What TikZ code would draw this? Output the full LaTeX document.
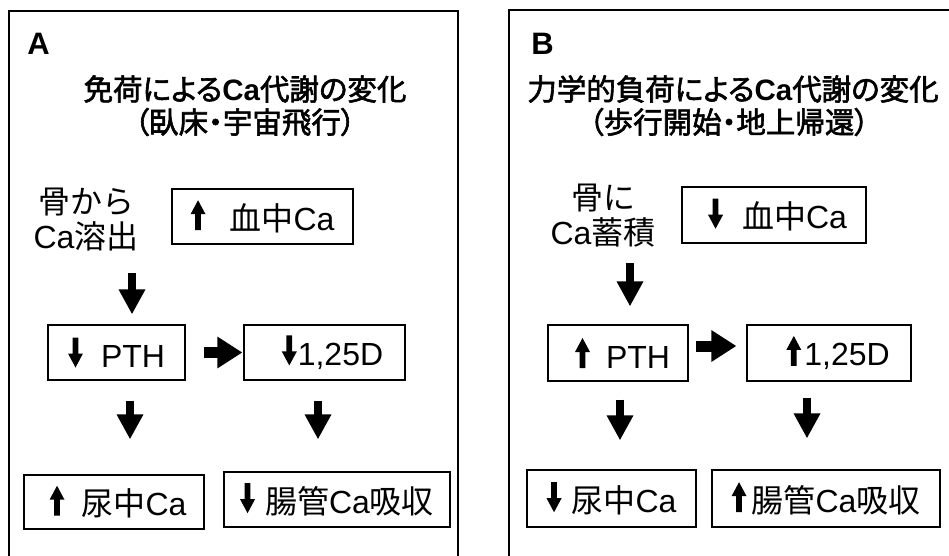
\documentclass[tikz,border=0pt]{standalone}
\usepackage{fontspec}
\setmainfont{Liberation Sans}
\newfontfamily\jp{Noto Sans CJK JP}
\newfontfamily\jpt{Noto Sans CJK JP}[RawFeature=+palt, FakeBold=2]
\usetikzlibrary{arrows.meta}
\newcommand\jt[1]{{\jp #1}}
\newcommand\jtp[1]{{\jpt\mdseries #1}}
\newcommand\upa{\tikz[baseline=0pt,x=1pt,y=1pt]\fill (-2.9,0)--(-2.9,16)--(-7.5,16)--(0,30)--(7.5,16)--(2.9,16)--(2.9,0)--cycle;}
\newcommand\dna{\tikz[baseline=0pt,x=1pt,y=1pt]\fill (-2.9,30)--(-2.9,14)--(-7.5,14)--(0,0)--(7.5,14)--(2.9,14)--(2.9,30)--cycle;}
\begin{document}
\begin{tikzpicture}[x=1pt,y=-1pt,
  frame/.style={line width=1.4pt},
  box/.style={draw, line width=1.2pt, inner sep=0pt, font=\fontsize{32}{33}\selectfont},
  ttl/.style={font=\bfseries\fontsize{29.5}{32}\selectfont, inner sep=0pt},
  lbl/.style={font=\bfseries\fontsize{31}{31}\selectfont, inner sep=0pt},
  srct/.style={align=center, font=\fontsize{32}{35}\selectfont, inner sep=0pt},
  bigdn/.style={line width=8.5pt, -{Triangle[length=25pt,width=25pt]}},
  bigrt/.style={line width=11pt, -{Triangle[length=25pt,width=30pt]}}]
\useasboundingbox (0,0) rectangle (949,555);
\fill[white] (0,0) rectangle (949,555);
\draw[frame] (9,556) -- (9,11) -- (458,11) -- (458,556);
\draw[frame] (509,556) -- (509,10) -- (950,10);
% Panel A
\node[lbl] (lA) at (38.5,44) {A};
\node[ttl] (tA1) at (245,89) {\jtp{免荷による}Ca\jtp{代謝の変化}};
\node[ttl] (tA2) at (245,122) {\jtp{（臥床・宇宙飛行）}};
\node[srct] (srcA) at (86,220) {\jt{骨から}\\Ca\jt{溶出}};
\node[box, minimum width=181pt, minimum height=55pt] (bloodA) at (262.5,216.5) {\upa\hspace{24pt}\jt{血中}Ca};
\node[box, minimum width=137pt, minimum height=55pt] (pthA) at (116.5,352.5) {\dna\hspace{18pt}PTH};
\node[box, minimum width=161pt, minimum height=55pt] (dA) at (324.5,352.5) {\hspace*{16pt}\dna\hspace{1pt}1,25D};
\node[box, minimum width=180pt, minimum height=54pt] (urA) at (114,502) {\hspace*{8pt}\upa\hspace{17pt}\jt{尿中}Ca};
\node[box, minimum width=226pt, minimum height=55pt] (gutA) at (337,499.5) {\dna\hspace{10pt}\jt{腸管}Ca\jt{吸収}};
\coordinate (xa1) at (132,0);
\coordinate (xa2) at (130,0);
\coordinate (xa3) at (318,0);
\draw[bigdn, shorten <=21.5pt, shorten >=10pt] (srcA.south -| xa1) -- (pthA.north -| xa1);
\draw[bigrt, shorten <=18pt, shorten >=1pt] (pthA.east) -- (dA.west);
\draw[bigdn, shorten <=20pt, shorten >=35pt] (pthA.south -| xa2) -- (urA.north -| xa2);
\draw[bigdn, shorten <=20pt, shorten >=32pt] (dA.south -| xa3) -- (gutA.north -| xa3);
% Panel B
\node[lbl] (lB) at (542.5,44) {B};
\node[ttl] (tB1) at (733,89) {\jtp{力学的負荷による}Ca\jtp{代謝の変化}};
\node[ttl] (tB2) at (729,122) {\jtp{（歩行開始・地上帰還）}};
\node[srct] (srcB) at (603,216) {\jt{骨に}\\Ca\jt{蓄積}};
\node[box, minimum width=184pt, minimum height=56pt] (bloodB) at (774,215) {\hspace*{7pt}\dna\hspace{19pt}\jt{血中}Ca};
\node[box, minimum width=140pt, minimum height=56pt] (pthB) at (618,353) {\hspace*{9pt}\upa\hspace{16pt}PTH};
\node[box, minimum width=164pt, minimum height=56pt] (dB) at (829,353) {\hspace*{18pt}\upa\hspace{3pt}1,25D};
\node[box, minimum width=169pt, minimum height=57pt] (urB) at (611.5,498.5) {\dna\hspace{10pt}\jt{尿中}Ca};
\node[box, minimum width=228pt, minimum height=57pt] (gutB) at (826,498.5) {\upa\hspace{5pt}\jt{腸管}Ca\jt{吸収}};
\coordinate (xb1) at (630,0);
\coordinate (xb2) at (620,0);
\coordinate (xb3) at (807,0);
\draw[bigdn, shorten <=15.5pt, shorten >=18pt] (srcB.south -| xb1) -- (pthB.north -| xb1);
\draw[bigrt, shorten <=7pt, shorten >=10pt] ([yshift=7pt]pthB.east) -- ([yshift=7pt]dB.west);
\draw[bigdn, shorten <=18pt, shorten >=29pt] (pthB.south -| xb2) -- (urB.north -| xb2);
\draw[bigdn, shorten <=16pt, shorten >=31pt] (dB.south -| xb3) -- (gutB.north -| xb3);
\end{tikzpicture}
\end{document}
